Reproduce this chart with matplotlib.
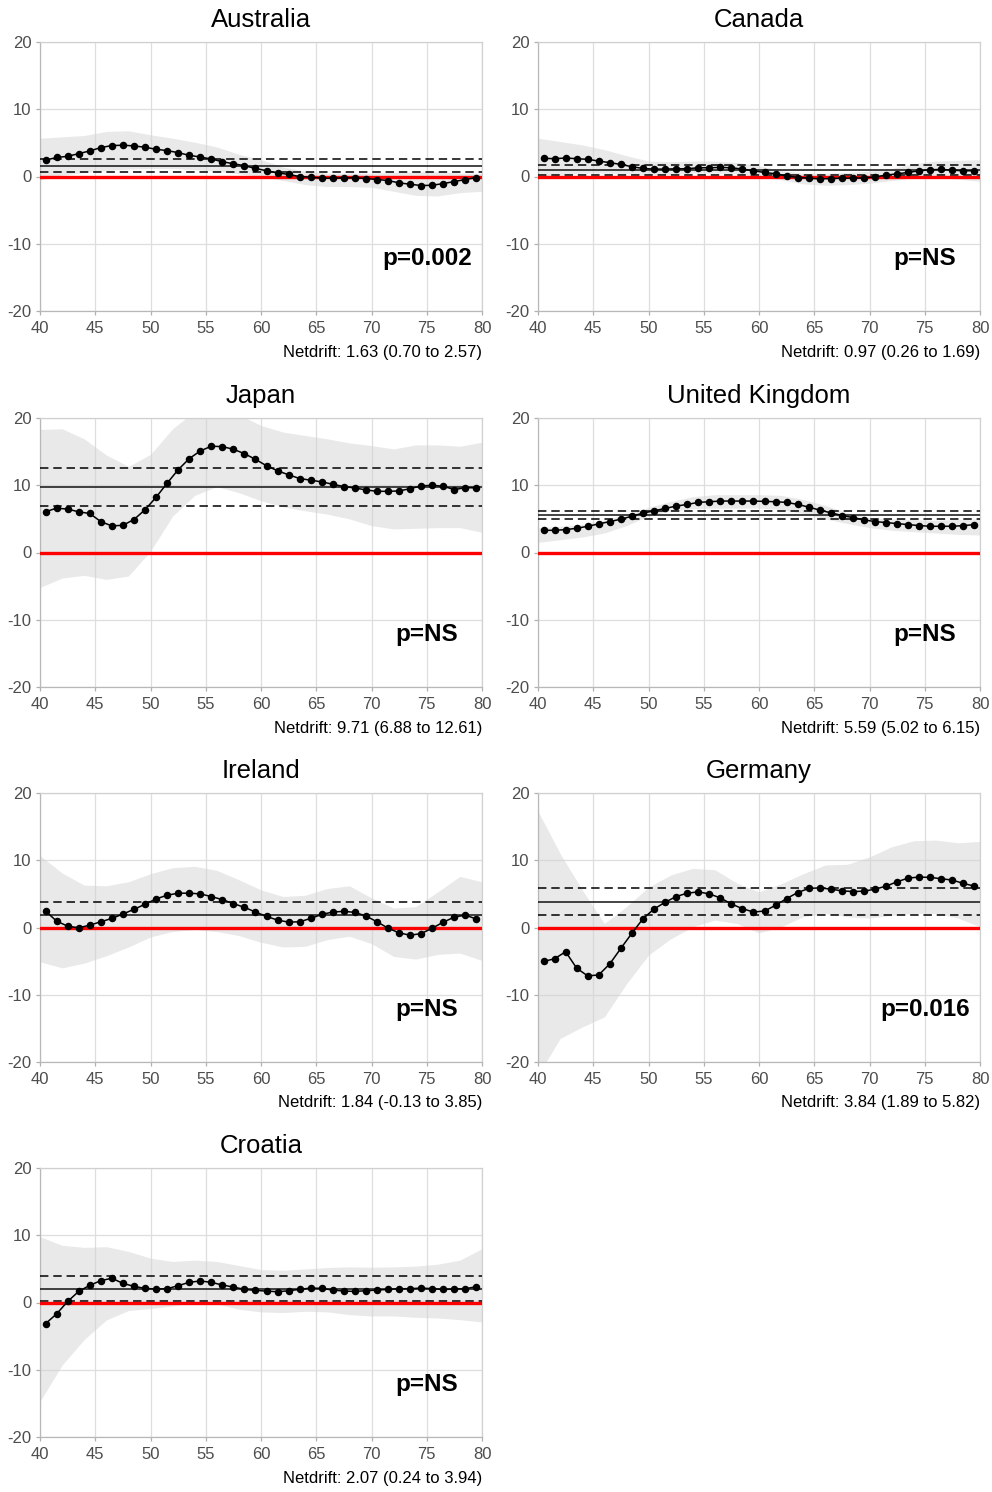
import matplotlib
matplotlib.use("Agg")
import matplotlib.pyplot as plt

plt.rcParams['font.family'] = ['Liberation Sans', 'DejaVu Sans']
plt.rcParams['axes.unicode_minus'] = False

# Age at which each drift estimate is reported (mid-year)
ages = [40.5, 41.5, 42.5, 43.5, 44.5, 45.5, 46.5, 47.5, 48.5, 49.5,
        50.5, 51.5, 52.5, 53.5, 54.5, 55.5, 56.5, 57.5, 58.5, 59.5,
        60.5, 61.5, 62.5, 63.5, 64.5, 65.5, 66.5, 67.5, 68.5, 69.5,
        70.5, 71.5, 72.5, 73.5, 74.5, 75.5, 76.5, 77.5, 78.5, 79.5]

# Ages at which the confidence band is given
band_ages = [40, 42, 44, 46, 48, 50, 52, 54, 56, 58, 60,
             62, 64, 66, 68, 70, 72, 74, 76, 78, 80]

countries = ["Australia", "Canada", "Japan", "United Kingdom",
             "Ireland", "Germany", "Croatia"]

# Local drift (% per year) by age
australia_drift = [2.43, 2.83, 3.0, 3.4, 3.8, 4.3, 4.6, 4.65, 4.55, 4.35,
                   4.05, 3.85, 3.55, 3.15, 2.9, 2.6, 2.2, 1.9, 1.6, 1.2,
                   0.85, 0.55, 0.3, 0.0, -0.1, -0.25, -0.25, -0.2, -0.2, -0.3,
                   -0.45, -0.6, -0.95, -1.15, -1.35, -1.3, -1.05, -0.75, -0.45, -0.15]
canada_drift = [2.7, 2.65, 2.75, 2.65, 2.55, 2.3, 2.05, 1.8, 1.45, 1.2,
                1.1, 1.1, 1.15, 1.15, 1.3, 1.3, 1.35, 1.3, 1.1, 0.85,
                0.6, 0.4, 0.1, -0.15, -0.25, -0.35, -0.3, -0.25, -0.25, -0.2,
                -0.05, 0.2, 0.4, 0.6, 0.85, 1.0, 1.05, 0.95, 0.85, 0.85]
japan_drift = [6.05, 6.6, 6.45, 6.05, 5.8, 4.6, 3.95, 4.05, 4.9, 6.35,
               8.2, 10.3, 12.3, 13.95, 15.1, 15.8, 15.75, 15.35, 14.7, 13.85,
               12.9, 12.15, 11.55, 11.0, 10.75, 10.5, 10.15, 9.8, 9.6, 9.3,
               9.1, 9.1, 9.15, 9.5, 9.9, 10.0, 9.85, 9.35, 9.65, 9.6]
uk_drift = [3.3, 3.3, 3.4, 3.6, 3.9, 4.25, 4.6, 4.95, 5.4, 5.85,
            6.2, 6.55, 6.9, 7.15, 7.45, 7.55, 7.65, 7.65, 7.65, 7.65,
            7.6, 7.55, 7.45, 7.15, 6.75, 6.3, 5.9, 5.5, 5.2, 4.85,
            4.6, 4.45, 4.3, 4.15, 4.0, 3.9, 3.9, 3.9, 4.0, 4.15]
ireland_drift = [2.45, 0.95, 0.2, -0.05, 0.35, 0.85, 1.35, 2.0, 2.7, 3.45,
                 4.25, 4.8, 5.1, 5.1, 5.0, 4.6, 4.15, 3.55, 3.0, 2.3,
                 1.65, 1.1, 0.8, 0.85, 1.35, 1.95, 2.3, 2.4, 2.25, 1.7,
                 0.85, -0.1, -0.8, -1.15, -0.9, -0.1, 0.8, 1.55, 1.85, 1.25]
germany_drift = [-5.05, -4.65, -3.6, -6.05, -7.2, -7.05, -5.4, -3.1, -0.85, 1.3,
                 2.75, 3.75, 4.6, 5.1, 5.3, 5.0, 4.4, 3.5, 2.8, 2.3,
                 2.45, 3.3, 4.3, 5.2, 5.8, 5.9, 5.7, 5.45, 5.35, 5.4,
                 5.7, 6.15, 6.8, 7.35, 7.5, 7.45, 7.25, 7.05, 6.55, 6.15]
croatia_drift = [-3.15, -1.7, 0.15, 1.65, 2.55, 3.25, 3.6, 2.85, 2.4, 2.1,
                 2.0, 2.05, 2.5, 3.0, 3.2, 3.0, 2.6, 2.3, 1.95, 1.8,
                 1.7, 1.6, 1.75, 1.95, 2.15, 2.1, 1.85, 1.7, 1.65, 1.75,
                 1.85, 1.95, 2.05, 2.05, 2.15, 2.05, 1.95, 2.0, 2.05, 2.35]

# 95% confidence band of the local drift
australia_lower = [-0.5, 0.2, 0.6, 0.9, 1.1, 1.2, 1.2, 1.0, 0.8, 0.4, 0.0,
                   -0.6, -1.2, -1.5, -1.5, -1.6, -2.2, -2.8, -2.9, -2.4, -2.2]
australia_upper = [5.7, 5.9, 6.1, 6.7, 6.8, 6.2, 5.7, 5.1, 4.4, 3.3, 2.5,
                   1.4, 0.8, 0.5, 0.5, 0.5, 0.6, 0.7, 0.7, 0.5, 0.5]
canada_lower = [-0.2, 0.2, 0.5, 0.5, 0.4, 0.3, 0.3, 0.5, 0.5, 0.4, 0.1,
                -0.5, -1.1, -1.3, -1.2, -1.0, -0.6, -0.2, -0.1, -0.4, -0.7]
canada_upper = [5.7, 5.2, 4.7, 4.0, 3.1, 2.3, 2.2, 2.3, 2.3, 2.1, 1.6,
                0.9, 0.5, 0.5, 0.6, 0.8, 1.2, 1.9, 2.3, 2.4, 2.5]
japan_lower = [-5.2, -3.8, -3.4, -4.0, -3.5, 0.2, 5.4, 8.5, 9.8, 8.9, 7.7,
               6.8, 6.2, 5.7, 5.0, 4.0, 3.5, 3.6, 3.7, 3.7, 3.0]
japan_upper = [18.3, 18.4, 16.9, 14.5, 12.8, 14.6, 18.4, 21.0, 21.5, 20.5, 18.9,
               17.9, 17.4, 16.9, 16.3, 15.9, 15.4, 16.0, 16.0, 15.8, 16.4]
uk_lower = [1.5, 1.9, 2.3, 2.9, 4.0, 5.4, 6.2, 6.5, 6.6, 6.6, 6.6,
            6.4, 5.8, 5.0, 4.3, 3.7, 3.3, 3.1, 2.9, 2.7, 2.6]
uk_upper = [3.7, 3.9, 4.2, 4.8, 5.7, 6.7, 7.6, 8.3, 8.6, 8.6, 8.6,
            8.5, 7.9, 7.0, 5.9, 5.2, 5.0, 4.9, 4.8, 4.9, 5.0]
ireland_lower = [-5.1, -6.0, -5.3, -4.2, -2.9, -1.4, -0.6, -0.3, -0.6, -1.2, -2.2,
                 -2.9, -2.8, -1.8, -1.3, -2.4, -4.3, -4.7, -4.0, -3.8, -4.9]
ireland_upper = [10.7, 8.1, 6.3, 6.2, 6.8, 8.0, 8.9, 9.1, 8.5, 7.1, 5.6,
                 4.6, 4.8, 5.8, 6.2, 4.4, 2.9, 3.1, 5.3, 7.6, 6.8]
germany_lower = [-22.0, -16.5, -14.8, -13.3, -8.4, -4.1, -1.7, 0.1, 1.1, 0.6, -0.8,
                 0.1, 1.6, 2.1, 1.6, 1.4, 1.8, 2.1, 2.1, 1.4, 0.1]
germany_upper = [17.3, 11.0, 5.6, 0.6, 3.1, 6.0, 7.8, 8.8, 8.6, 6.6, 5.3,
                 6.5, 8.0, 9.3, 9.4, 10.5, 12.0, 12.9, 13.0, 12.6, 12.8]
croatia_lower = [-14.7, -9.3, -5.5, -2.6, -1.2, -0.9, -0.5, 0.0, -0.2, -1.0, -1.4,
                 -1.5, -1.3, -1.4, -1.8, -2.0, -2.0, -2.2, -2.3, -2.55, -2.9]
croatia_upper = [9.8, 8.5, 8.2, 8.3, 7.6, 6.6, 6.1, 6.3, 6.1, 5.5, 4.9,
                 4.8, 5.0, 5.2, 5.3, 5.25, 5.3, 5.4, 5.7, 6.3, 8.0]

# Net drift with 95% CI, and test for age effect
netdrift_est = [1.63, 0.97, 9.71, 5.59, 1.84, 3.84, 2.07]
netdrift_lo = [0.70, 0.26, 6.88, 5.02, -0.13, 1.89, 0.24]
netdrift_hi = [2.57, 1.69, 12.61, 6.15, 3.85, 5.82, 3.94]
p_labels = ["p=0.002", "p=NS", "p=NS", "p=NS", "p=NS", "p=0.016", "p=NS"]

drifts = [australia_drift, canada_drift, japan_drift, uk_drift,
          ireland_drift, germany_drift, croatia_drift]
lowers = [australia_lower, canada_lower, japan_lower, uk_lower,
          ireland_lower, germany_lower, croatia_lower]
uppers = [australia_upper, canada_upper, japan_upper, uk_upper,
          ireland_upper, germany_upper, croatia_upper]

W, H = 992, 1492
fig = plt.figure(figsize=(W / 100, H / 100), dpi=100)

col_left = [40, 538]
row_top = [42, 418, 793, 1168]
ax_w, ax_h = 442, 269

for i, name in enumerate(countries):
    r, c = divmod(i, 2)
    left = col_left[c] / W
    bottom = (H - row_top[r] - ax_h) / H
    ax = fig.add_axes([left, bottom, ax_w / W, ax_h / H])

    ax.fill_between(band_ages, lowers[i], uppers[i], color='#d4d4d4',
                    alpha=0.5, lw=0, zorder=2)
    ax.axhline(netdrift_est[i], color='#111111', lw=1.1, zorder=3)
    for v in (netdrift_lo[i], netdrift_hi[i]):
        ax.axhline(v, color='black', lw=1.1, ls=(0, (5.5, 3.2)), zorder=3)
    ax.axhline(0, color='#ff0000', lw=2.4, zorder=4)
    ax.plot(ages, drifts[i], '-o', color='black', lw=1.1, ms=4.4, zorder=5)

    ax.set_xlim(40, 80)
    ax.set_ylim(-20, 20)
    ax.set_xticks([40, 45, 50, 55, 60, 65, 70, 75, 80])
    ax.set_yticks([-20, -10, 0, 10, 20])
    ax.set_axisbelow(True)
    ax.grid(True, color='#dedede', lw=0.9)
    ax.tick_params(colors='#b0b0b0', labelcolor='#4d4d4d', labelsize=12,
                   length=3, width=0.9)
    ax.tick_params(axis='x', pad=4)
    ax.tick_params(axis='y', pad=3)
    for side in ('top', 'right'):
        ax.spines[side].set_color('#d0d0d0')
    for side in ('left', 'bottom'):
        ax.spines[side].set_color('#b8b8b8')
    for sp in ax.spines.values():
        sp.set_linewidth(0.9)

    ax.set_title(name, fontsize=18.5, pad=11)
    ax.text(75, -12.2, p_labels[i], ha='center', va='center',
            fontsize=17.5, fontweight='bold', zorder=6)
    ax.text(1.0, -41 / ax_h,
            f"Netdrift: {netdrift_est[i]:.2f} ({netdrift_lo[i]:.2f} to {netdrift_hi[i]:.2f})",
            transform=ax.transAxes, ha='right', va='center', fontsize=12)

fig.savefig("out.png", dpi=100, facecolor='white')
